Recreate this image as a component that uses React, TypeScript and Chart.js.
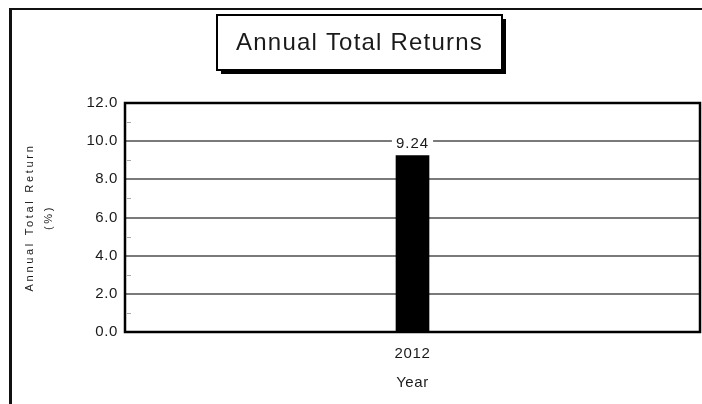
import React, { useEffect, useRef } from 'react';
import { Chart, registerables } from 'chart.js';

Chart.register(...registerables);

const categories: string[] = ['2012'];
const returns: number[] = [9.24];
const yTickValues: number[] = [0, 2, 4, 6, 8, 10, 12];
const minorTickValues: number[] = [1, 3, 5, 7, 9, 11];
const chartTitle = 'Annual Total Returns';
const yTitleLines: string[] = ['Annual Total Return', '(%)'];
const xTitle = 'Year';

const FONT = '"Liberation Sans", Arial, Helvetica, sans-serif';
const TEXT = '#1a1a1a';

const decorPlugin = {
  id: 'decor',
  beforeDraw(chart: any) {
    const ctx = chart.ctx as CanvasRenderingContext2D;
    (ctx as any).letterSpacing = '0.6px';
  },
  beforeDatasetsDraw(chart: any) {
    const ctx = chart.ctx as CanvasRenderingContext2D;
    const ca = chart.chartArea;
    const y = chart.scales.y;
    ctx.save();
    ctx.strokeStyle = '#aaa';
    ctx.lineWidth = 1;
    minorTickValues.forEach((v) => {
      const py = Math.round(y.getPixelForValue(v)) + 0.5;
      ctx.beginPath();
      ctx.moveTo(ca.left + 2, py);
      ctx.lineTo(ca.left + 6, py);
      ctx.stroke();
    });
    ctx.restore();
  },
  afterDatasetsDraw(chart: any) {
    const ctx = chart.ctx as CanvasRenderingContext2D;
    const ca = chart.chartArea;
    ctx.save();
    (ctx as any).letterSpacing = '1px';
    // data labels
    const meta = chart.getDatasetMeta(0);
    ctx.font = `15px ${FONT}`;
    ctx.textAlign = 'center';
    ctx.textBaseline = 'middle';
    meta.data.forEach((bar: any, i: number) => {
      const txt = returns[i].toFixed(2);
      const w = ctx.measureText(txt).width;
      const cy = bar.y - 12;
      ctx.fillStyle = '#fff';
      ctx.fillRect(bar.x - w / 2 - 4, cy - 9, w + 8, 18);
      ctx.fillStyle = TEXT;
      ctx.fillText(txt, bar.x, cy);
    });
    // plot border
    ctx.strokeStyle = '#000';
    ctx.lineWidth = 2.5;
    ctx.strokeRect(ca.left, ca.top, ca.right - ca.left, ca.bottom - ca.top);
    ctx.restore();
  },
  afterDraw(chart: any) {
    const ctx = chart.ctx as CanvasRenderingContext2D;
    const ca = chart.chartArea;
    ctx.save();
    // outer frame (top and left)
    ctx.fillStyle = '#111';
    ctx.fillRect(9, 8, 702 - 9, 2);
    ctx.fillRect(9, 8, 3, 404 - 8);
    // title box with shadow
    const bx = 217, by = 15, bw = 285, bh = 55;
    ctx.fillStyle = '#000';
    ctx.fillRect(bx + 4, by + 4, bw, bh);
    ctx.fillStyle = '#fff';
    ctx.fillRect(bx, by, bw, bh);
    ctx.strokeStyle = '#000';
    ctx.lineWidth = 2;
    ctx.strokeRect(bx, by, bw, bh);
    (ctx as any).letterSpacing = '1.2px';
    ctx.fillStyle = TEXT;
    ctx.font = `24px ${FONT}`;
    ctx.textAlign = 'center';
    ctx.textBaseline = 'middle';
    ctx.fillText(chartTitle, bx + bw / 2, by + bh / 2 + 1);
    // y axis title (rotated)
    const cy = (ca.top + ca.bottom) / 2;
    ctx.font = `11px ${FONT}`;
    (ctx as any).letterSpacing = '2.7px';
    ctx.translate(0, cy);
    ctx.rotate(-Math.PI / 2);
    ctx.fillText(yTitleLines[0], 0, 30);
    ctx.fillText(yTitleLines[1], 0, 49);
    ctx.restore();
  },
};

export default function App() {
  const ref = useRef<HTMLCanvasElement | null>(null);
  useEffect(() => {
    document.body.style.margin = '0';
    if (!ref.current) return;
    const chart = new Chart(ref.current, {
      type: 'bar',
      data: {
        labels: categories,
        datasets: [
          {
            data: returns,
            backgroundColor: '#000',
            borderWidth: 0,
            barThickness: 33,
          },
        ],
      },
      options: {
        responsive: false,
        animation: false,
        events: [],
        layout: { padding: { left: 0, right: 2, top: 103, bottom: 0 } },
        plugins: {
          legend: { display: false },
          title: { display: false },
          tooltip: { enabled: false },
        },
        scales: {
          x: {
            type: 'category',
            grid: { display: false },
            border: { display: false },
            ticks: {
              color: TEXT,
              font: { family: FONT, size: 15 },
              padding: 5,
              maxRotation: 0,
            },
            title: {
              display: true,
              text: xTitle,
              color: TEXT,
              font: { family: FONT, size: 15 },
              padding: { top: 12, bottom: 12 },
            },
            afterFit: (s: any) => {
              s.height = 72;
            },
          },
          y: {
            min: 0,
            max: 12,
            afterBuildTicks: (s: any) => {
              s.ticks = yTickValues.map((v) => ({ value: v }));
            },
            ticks: {
              color: TEXT,
              font: { family: FONT, size: 15 },
              padding: 7,
              callback: (v: any) => Number(v).toFixed(1),
            },
            grid: {
              drawTicks: false,
              lineWidth: 2,
              color: (c: any) =>
                c.tick && (c.tick.value === 0 || c.tick.value === 12) ? 'rgba(0,0,0,0)' : '#7a7a7a',
            },
            border: { display: false },
            afterFit: (s: any) => {
              s.width = 125;
            },
          },
        },
      },
      plugins: [decorPlugin],
    });
    return () => chart.destroy();
  }, []);
  return (
    <div style={{ width: 702, height: 404 }}>
      <canvas ref={ref} width={702} height={404} style={{ display: 'block' }} />
    </div>
  );
}
